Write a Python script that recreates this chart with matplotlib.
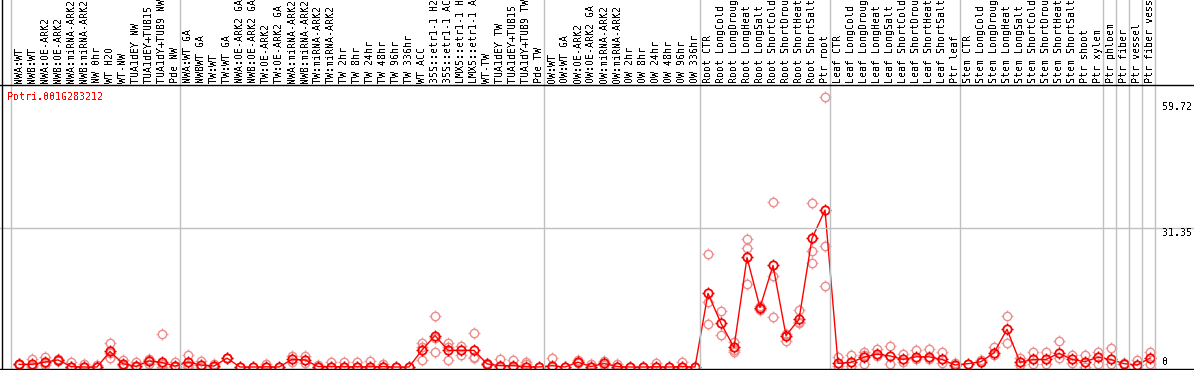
import numpy as np
import matplotlib
matplotlib.use('Agg')
from matplotlib import pyplot as plt
from matplotlib.lines import Line2D
from matplotlib.path import Path
from matplotlib.transforms import blended_transform_factory, offset_copy

# 字体: 等宽, 不做抗锯齿, 接近原图的像素字体
plt.rcParams['font.family'] = ['DejaVu Sans Mono']
plt.rcParams['text.antialiased'] = False

gene = 'Potri.001G283212'

labels = [
    'NWA:WT', 'NWB:WT', 'NWA:OE-ARK2', 'NWB:OE-ARK2', 'NWA:miRNA-ARK2', 'NWB:miRNA-ARK2',
    'NW 0hr', 'WT H2O', 'WT-NW', 'TUA1dEY NW', 'TUA1dEY+TUB15', 'TUA1dY+TUB9 NW', 'Pde NW',
    'NWA:WT GA', 'NWBWT GA', 'TW:WT', 'TW:WT GA', 'NWA:OE-ARK2 GA', 'NWB:OE-ARK2 GA',
    'TW:OE-ARK2', 'TW:OE-ARK2 GA', 'NWA:miRNA-ARK2', 'NWB:miRNA-ARK2', 'TW:miRNA-ARK2',
    'TW:miRNA-ARK2', 'TW 2hr', 'TW 8hr', 'TW 24hr', 'TW 48hr', 'TW 96hr', 'TW 336hr',
    'WT ACC', '35S::etr1-1 H2O', '35S::etr1-1 ACC', 'LMX5::etr1-1 H2O', 'LMX5::etr1-1 ACC',
    'WT-TW', 'TUA1dEY TW', 'TUA1dEY+TUB15 TW', 'TUA1dY+TUB9 TW', 'Pde TW',
    'OW:WT', 'OW:WT GA', 'OW:OE-ARK2', 'OW:OE-ARK2 GA', 'OW:miRNA-ARK2', 'OW:miRNA-ARK2',
    'OW 2hr', 'OW 8hr', 'OW 24hr', 'OW 48hr', 'OW 96hr', 'OW 336hr',
    'Root CTR', 'Root LongCold', 'Root LongDrought', 'Root LongHeat', 'Root LongSalt',
    'Root ShortCold', 'Root ShortDrought', 'Root ShortHeat', 'Root ShortSalt', 'Ptr root',
    'Leaf CTR', 'Leaf LongCold', 'Leaf LongDrought', 'Leaf LongHeat', 'Leaf LongSalt',
    'Leaf ShortCold', 'Leaf ShortDrought', 'Leaf ShortHeat', 'Leaf ShortSalt', 'Ptr leaf',
    'Stem CTR', 'Stem LongCold', 'Stem LongDrought', 'Stem LongHeat', 'Stem LongSalt',
    'Stem ShortCold', 'Stem ShortDrought', 'Stem ShortHeat', 'Stem ShortSalt', 'Ptr shoot',
    'Ptr xylem', 'Ptr phloem', 'Ptr fiber', 'Ptr vessel', 'Ptr fiber vessel',
]

means = [
    0.6, 0.6, 1.1, 1.6, 0.1, 0.0, 0.0, 3.5, 0.75, 0.15, 1.35, 1.05, 0.2,
    1.1, 0.45, 0.2, 2.0, 0.0, 0.0, 0.05, 0.0, 1.7, 1.6, 0.1, 0.1, 0.05, 0.05, 0.05,
    0.1, 0.0, 0.0, 3.8, 7.1, 3.75, 3.75, 3.75, 0.7, 0.3, 0.3, 0.1, 0.0,
    0.3, 0.0, 1.1, 0.1, 0.8, 0.1, 0.0, 0.0, 0.05, 0.0, 0.1, 0.0,
    16.6, 9.85, 4.4, 24.7, 13.4, 22.9, 7.1, 10.75, 29.0, 35.4,
    0.8, 1.05, 2.2, 2.9, 2.5, 1.7, 2.3, 2.3, 1.7, 0.45,
    0.75, 1.2, 3.2, 8.5, 1.05, 1.7, 1.7, 3.1, 1.7, 1.2, 2.2,
    1.7, 0.75, 0.45, 2.0,
]

replicates = [
    [0.6, 0.7, 0.5], [1.7, 0.3, 0.0], [2.2, 0.8, 0.4], [1.9, 1.6, 1.3], [1.1, 0.0, 0.0],
    [0.7, 0.0], [0.5, 0.0], [5.4, 2.0, 3.2], [1.6, 0.3, 0.4], [1.2, 0.0], [1.9, 1.5, 0.7],
    [7.4, 0.6, 0.0], [1.2, 0.0],
    [2.7, 0.5, 0.1], [1.4, 0.0], [0.6, 0.0], [2.0, 2.1], [0.0], [0.0], [0.75, 0.0], [0.0],
    [2.5, 1.2], [2.5, 1.0], [0.5, 0.0], [1.2, 0.0], [1.2, 0.0], [1.1, 0.0], [1.3, 0.0],
    [0.75, 0.0], [0.0], [0.0], [5.3, 1.6, 4.5], [11.5, 3.4, 6.5], [5.3, 1.6, 4.6],
    [4.8, 2.8], [7.7, 2.0, 2.3], [1.0, 0.5], [1.8, 0.0], [1.6, 0.0], [1.1, 0.6], [0.0],
    [2.0, 0.0], [0.0], [1.6, 0.8], [0.75, 0.0], [1.35, 0.4], [0.7, 0.0], [0.0], [0.0],
    [0.8, 0.0], [0.0], [1.2, 0.0], [0.0],
    [25.5, 14.7, 9.7], [12.6, 7.2], [5.7, 3.4, 3.9], [28.8, 26.8, 18.7], [12.85, 13.8, 13.0],
    [37.1, 20.5, 11.3], [7.5, 5.9], [12.85, 9.85, 10.2], [36.9, 26.2, 23.4],
    [60.9, 27.4, 18.3],
    [2.3, 0.2], [2.7, 0.3], [3.4, 0.7, 2.6], [4.0, 2.4], [4.7, 0.7], [2.9, 1.2],
    [3.75, 1.9], [4.0, 1.8], [3.45, 1.0], [1.0, 0.2],
    [0.75], [1.6], [4.4, 2.6], [11.4, 5.4], [2.1, 0.5], [3.45, 0.6], [3.45, 0.6],
    [5.9, 2.0], [2.8, 0.9], [2.8, 0.0], [3.45, 0.6],
    [4.2, 0.6], [1.0], [1.6], [3.45, 0.6],
]

# 分组的起始列
group_starts = [0, 13, 41, 53, 63, 73, 84, 85, 86, 87, 88]
y_ticks = [0, 31.35, 59.72]

W, H = 1194, 370
fig = plt.figure(figsize=(W / 100, H / 100), dpi=100)


def fx(px):
    return px / W


def fy(py):
    return 1 - py / H


ax = fig.add_axes([fx(11), fy(367), fx(1156) - fx(11), fy(85) - fy(367)])
ax.set_xlim((11 - 19) / 13, (1156 - 19) / 13)
ax.set_ylim(0, (367 - 85) / 4.434)
ax.axis('off')

# 圆圈外面的四个小刻度
a, b = 0.75, 1.0
tick_marker = Path([(0, a), (0, b), (0, -a), (0, -b), (a, 0), (b, 0), (-a, 0), (-b, 0)],
                   [Path.MOVETO, Path.LINETO] * 4)

x = np.arange(len(labels))
xr = np.concatenate([[i] * len(r) for i, r in enumerate(replicates)])
yr = np.concatenate(replicates)

# 重复样本
ax.plot(xr, yr, ls='none', marker=tick_marker, ms=8.2, mew=1, color='#f0a0a0',
        clip_on=False, zorder=2, antialiased=False)
ax.plot(xr, yr, ls='none', marker='o', ms=6, mew=1, mfc='none', mec='#ec8c8c',
        clip_on=False, zorder=2)
# 平均值折线
ax.plot(x, means, color='red', lw=1, clip_on=False, zorder=3)
ax.plot(x, means, ls='none', marker=tick_marker, ms=8.2, mew=1, color='#bb0000',
        clip_on=False, zorder=4, antialiased=False)
ax.plot(x, means, ls='none', marker='o', ms=6, mew=1.3, mfc='none', mec='red',
        clip_on=False, zorder=4)

# 网格线
tx = blended_transform_factory(ax.transData, fig.transFigure)
ty = blended_transform_factory(fig.transFigure, ax.transData)
for g in group_starts:
    fig.add_artist(Line2D([g - 0.615, g - 0.615], [fy(368), 1], transform=tx,
                          color='#c0c0c0', lw=1, zorder=1))
fig.add_artist(Line2D([0, 1], [31.35, 31.35], transform=ty, color='#c0c0c0', lw=1, zorder=1))

# 黑色边框线
fig.add_artist(Line2D([fx(1.5), fx(1.5)], [0, 1], color='black', lw=1))
fig.add_artist(Line2D([0, 1], [fy(85), fy(85)], color='black', lw=1))
fig.add_artist(Line2D([0, 1], [fy(368.5), fy(368.5)], color='black', lw=1))

# 列标签
for i, lab in enumerate(labels):
    fig.text(i, fy(83), lab, transform=tx, rotation=90, ha='center', va='bottom',
             fontsize=7.2, color='black')

# y 轴刻度文字
for v in y_ticks:
    dy = 5 if v == 0 else -5
    tr = offset_copy(ty, fig=fig, y=dy, units='dots')
    fig.text(fx(1162), v, '%g' % v if v == 0 else '%.2f' % v, transform=tr,
             ha='left', va='center', fontsize=7.2, color='black')

fig.text(fx(7), fy(97), gene, ha='left', va='center', fontsize=7.2, color='red')

fig.savefig('out.png', dpi=100)
